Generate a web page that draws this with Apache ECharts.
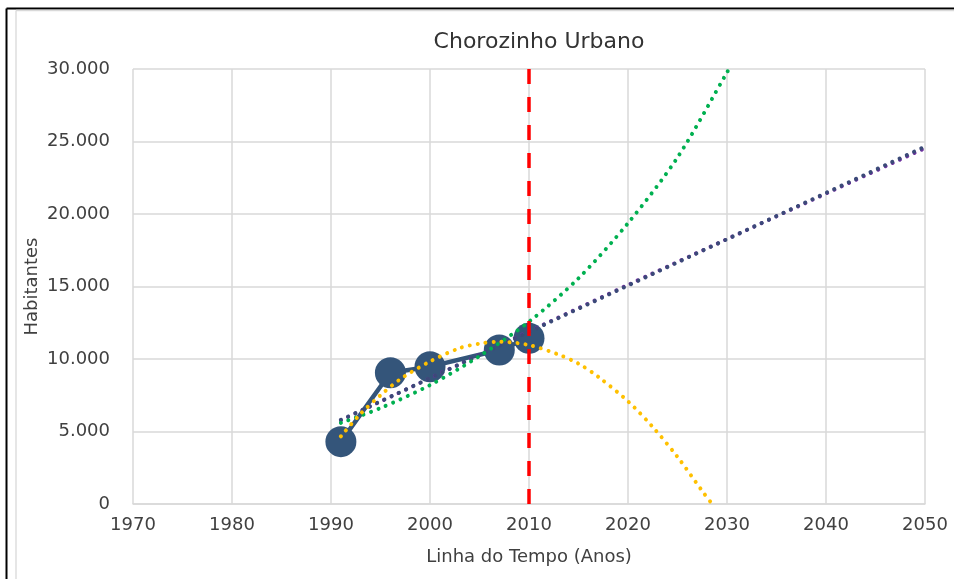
<!DOCTYPE html>
<html>
<head>
<meta charset="utf-8">
<title>Chorozinho Urbano</title>
<script src="https://cdn.jsdelivr.net/npm/echarts@6/dist/echarts.min.js"></script>
<style>
  html, body { margin: 0; padding: 0; background: #ffffff; }
  #chart { width: 954px; height: 579px; }
</style>
</head>
<body>
<div id="chart"></div>
<script>
// Census population (urban) of Chorozinho
const censusYears = [1991, 1996, 2000, 2007, 2010];
const censusValues = [4300, 9050, 9470, 10620, 11430];

// Trend lines (sampled along each curve)
const linearYears = [1991, 2050];
const linearValues = [5800, 24650];

const logYears = [1991, 2020, 2050];
const logValues = [5770, 15110, 24540];

const expYears = [1991, 1995, 2000, 2005, 2010, 2015, 2020, 2025, 2030, 2030.2];
const expValues = [5590, 6620, 8200, 10200, 12570, 15570, 19370, 23900, 29760, 30000];

const polyYears = [1991, 1993, 1995, 1997, 2000, 2003, 2005, 2007, 2010, 2013, 2015, 2017, 2020, 2022.5, 2025, 2027.6, 2028.5];
const polyValues = [4670, 6230, 7500, 8610, 9830, 10750, 11060, 11190, 10960, 10300, 9680, 8770, 7080, 5310, 3250, 800, 0];

// Reference year marker
const markerYear = 2010;
const markerRange = [30000, 0];

// Axis ticks
const xTickLabels = ['1970', '1980', '1990', '2000', '2010', '2020', '2030', '2040', '2050'];
const yTickLabels = ['0', '5.000', '10.000', '15.000', '20.000', '25.000', '30.000'];

const pairs = (xs, ys) => xs.map((x, i) => [x, ys[i]]);

const FONT = '"DejaVu Sans", sans-serif';
const TEXT = '#404040';
const GRID = '#d9d9d9';

const dotted = (color) => ({
  color: color,
  width: 4,
  type: [0.01, 8],
  cap: 'round'
});

const chart = echarts.init(document.getElementById('chart'), null, { renderer: 'canvas' });

chart.setOption({
  animation: false,
  backgroundColor: '#ffffff',
  textStyle: { fontFamily: FONT },
  title: {
    text: 'Chorozinho Urbano',
    left: 539,
    top: 31,
    textAlign: 'center',
    padding: 0,
    textStyle: { fontFamily: FONT, fontSize: 22, fontWeight: 'normal', color: '#333333' }
  },
  grid: { left: 133, right: 29, top: 69, bottom: 75, containLabel: false },
  xAxis: {
    type: 'value',
    min: 1970,
    max: 2050,
    interval: 10,
    name: 'Linha do Tempo (Anos)',
    nameLocation: 'middle',
    nameGap: 44,
    nameMoveOverlap: false,
    nameTextStyle: { fontFamily: FONT, fontSize: 18, color: TEXT },
    axisLine: { show: true, lineStyle: { color: GRID, width: 1.5 } },
    axisTick: { show: false },
    axisLabel: {
      fontFamily: FONT, fontSize: 18, color: TEXT, margin: 12,
      formatter: (v) => xTickLabels[Math.round((v - 1970) / 10)]
    },
    splitLine: { show: true, lineStyle: { color: GRID, width: 1.5 } }
  },
  yAxis: {
    type: 'value',
    min: 0,
    max: 30000,
    interval: 5000,
    name: 'Habitantes',
    nameLocation: 'middle',
    nameGap: 92,
    nameMoveOverlap: false,
    nameTextStyle: { fontFamily: FONT, fontSize: 18, color: TEXT },
    axisLine: { show: false },
    axisTick: { show: false },
    axisLabel: {
      fontFamily: FONT, fontSize: 18, color: TEXT, margin: 23,
      formatter: (v) => yTickLabels[Math.round(v / 5000)]
    },
    splitLine: { show: true, lineStyle: { color: GRID, width: 1.5 } }
  },
  series: [
    {
      name: 'População urbana',
      type: 'line',
      data: pairs(censusYears, censusValues),
      symbol: 'circle',
      symbolSize: 31,
      itemStyle: { color: '#34557a' },
      lineStyle: { color: '#34557a', width: 4.5 },
      z: 2
    },
    {
      name: 'Logarítmica',
      type: 'line',
      data: pairs(logYears, logValues),
      smooth: 0.3,
      showSymbol: false,
      lineStyle: dotted('#7030a0'),
      z: 3
    },
    {
      name: 'Linear',
      type: 'line',
      data: pairs(linearYears, linearValues),
      showSymbol: false,
      lineStyle: dotted('#3b4a78'),
      z: 4
    },
    {
      name: 'Exponencial',
      type: 'line',
      data: pairs(expYears, expValues),
      smooth: 0.3,
      showSymbol: false,
      lineStyle: dotted('#00b050'),
      z: 5
    },
    {
      name: 'Polinomial',
      type: 'line',
      data: pairs(polyYears, polyValues),
      smooth: 0.3,
      showSymbol: false,
      lineStyle: dotted('#ffc000'),
      z: 6
    },
    {
      name: 'Marco 2010',
      type: 'line',
      data: markerRange.map((v) => [markerYear, v]),
      showSymbol: false,
      lineStyle: { color: '#ff0000', width: 3.5, type: [15, 13], cap: 'butt' },
      z: 7
    }
  ],
  graphic: [
    // outer frame
    { type: 'line', shape: { x1: 6.5, y1: 8.5, x2: 954, y2: 8.5 }, style: { stroke: '#000000', lineWidth: 2 }, z: 10 },
    { type: 'line', shape: { x1: 6.5, y1: 8.5, x2: 6.5, y2: 579 }, style: { stroke: '#000000', lineWidth: 2 }, z: 10 },
    // inner chart-area border
    { type: 'line', shape: { x1: 16, y1: 10.5, x2: 954, y2: 10.5 }, style: { stroke: GRID, lineWidth: 1.3 }, z: 10 },
    { type: 'line', shape: { x1: 16, y1: 10.5, x2: 16, y2: 579 }, style: { stroke: GRID, lineWidth: 1.3 }, z: 10 }
  ]
});
</script>
</body>
</html>
